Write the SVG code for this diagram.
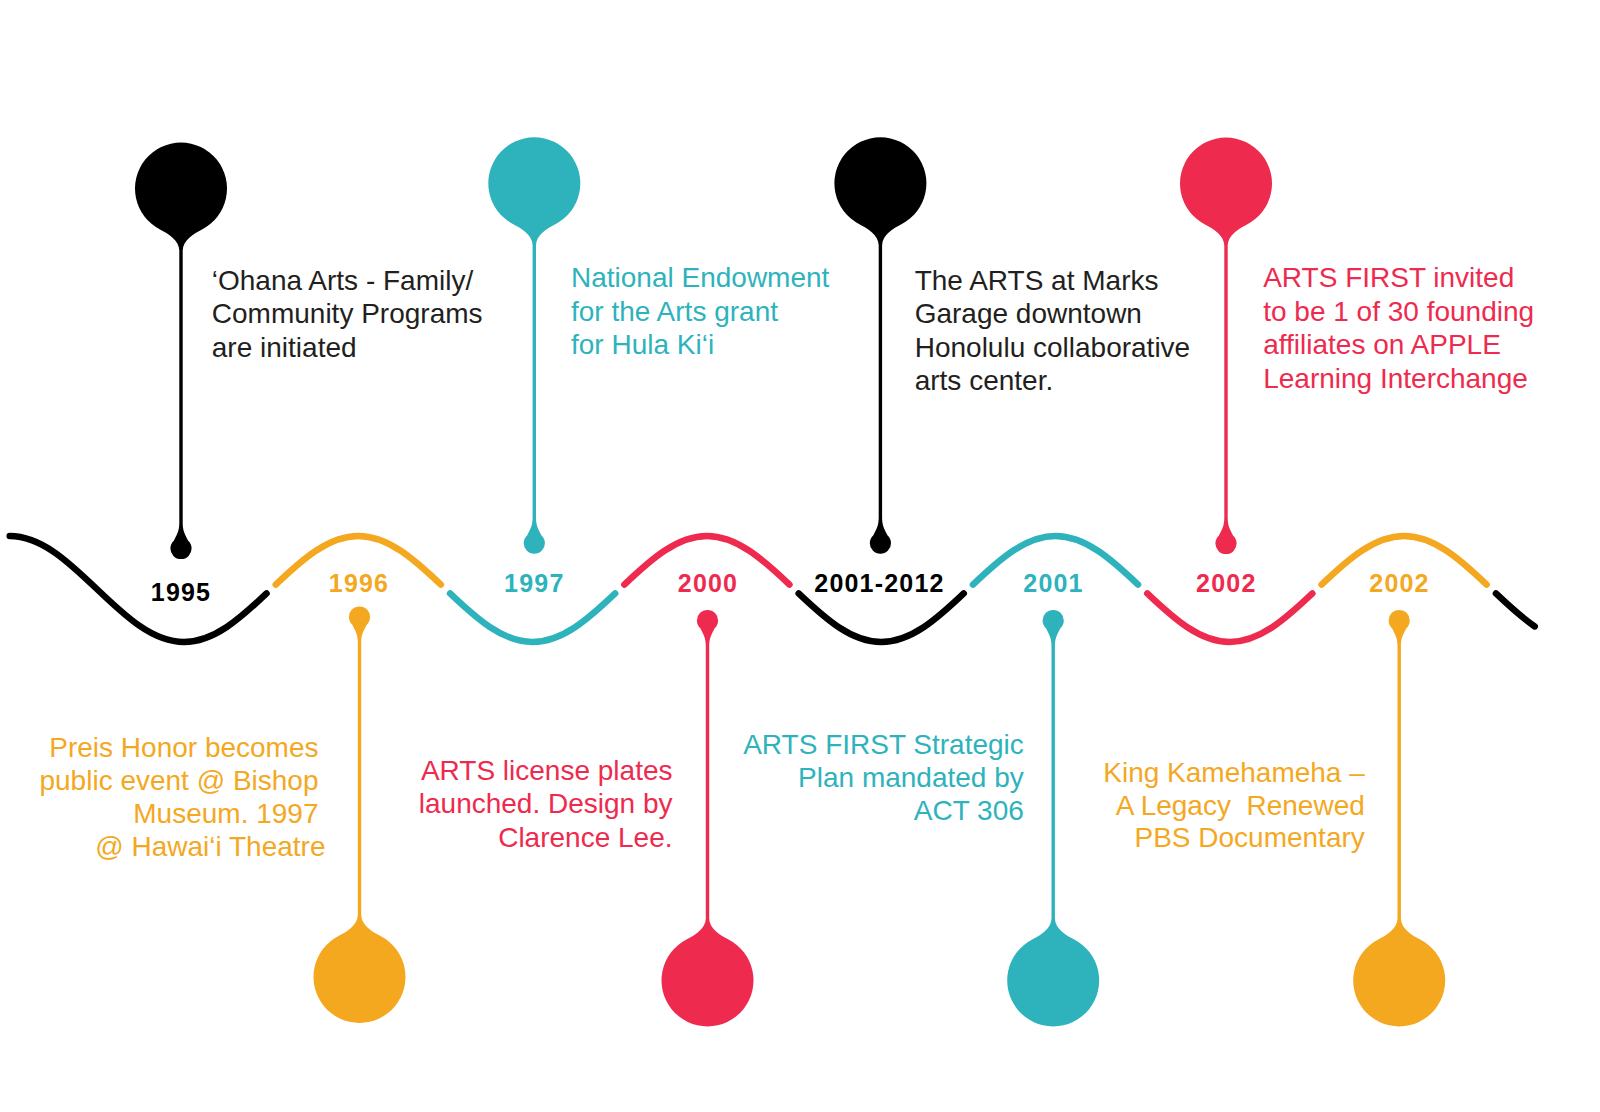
<svg xmlns="http://www.w3.org/2000/svg" width="1600" height="1112" viewBox="0 0 1600 1112">
<style>
.t{font-family:"Liberation Sans",Arial,sans-serif;font-size:28px}
.yr{font-family:"Liberation Sans",Arial,sans-serif;font-size:25px;font-weight:bold;letter-spacing:1.2px;text-anchor:middle}
.e{text-anchor:end}
.k{fill:#000}
.kt{fill:#231f20}
.o{fill:#F4A81F}
.c{fill:#2EB3BC}
.r{fill:#EE2A4E}
.w{fill:none;stroke-width:6.5;stroke-linecap:round}
.mid{stroke-dasharray:94 6;stroke-dashoffset:-3}
</style>
<defs>
<path id="pin" d="M1.7,62 C1.7,52 13,45 21,41 A46 46 0 1 0 -21,41 C-13,45 -1.7,52 -1.7,62 L-1.7,334 C-1.7,342 -3.5,345 -7.2,352.2 A10.6 10.6 0 1 0 7.2,352.2 C3.5,345 1.7,342 1.7,334 Z"/>
</defs>
<rect width="1600" height="1112" fill="#fff"/>

<g id="connectors" class="w">
<path stroke="#000" pathLength="100" style="stroke-dasharray:98 10" d="M9.7,536 c31.54,0 58.73,25.85 87.15,53 c28.42,27.15 55.61,53 87.15,53 c31.54,0 58.73,-25.85 87.15,-53"/>
<path class="mid" stroke="#F4A81F" pathLength="100" d="M271.15,589 c28.42,-27.15 55.61,-53 87.15,-53 c31.54,0 58.73,25.85 87.15,53"/>
<path class="mid" stroke="#2EB3BC" pathLength="100" d="M445.45,589 c28.42,27.15 55.61,53 87.15,53 c31.54,0 58.73,-25.85 87.15,-53"/>
<path class="mid" stroke="#EE2A4E" pathLength="100" d="M619.75,589 c28.42,-27.15 55.61,-53 87.15,-53 c31.54,0 58.73,25.85 87.15,53"/>
<path class="mid" stroke="#000" pathLength="100" d="M794.05,589 c28.42,27.15 55.61,53 87.15,53 c31.54,0 58.73,-25.85 87.15,-53"/>
<path class="mid" stroke="#2EB3BC" pathLength="100" d="M968.35,589 c28.42,-27.15 55.61,-53 87.15,-53 c31.54,0 58.73,25.85 87.15,53"/>
<path class="mid" stroke="#EE2A4E" pathLength="100" d="M1142.65,589 c28.42,27.15 55.61,53 87.15,53 c31.54,0 58.73,-25.85 87.15,-53"/>
<path class="mid" stroke="#F4A81F" pathLength="100" d="M1316.95,589 c28.42,-27.15 55.61,-53 87.15,-53 c31.54,0 58.73,25.85 87.15,53"/>
<path stroke="#000" pathLength="100" style="stroke-dasharray:48.9 100;stroke-dashoffset:-6.1" d="M1491.25,589 c28.42,27.15 55.61,53 87.15,53"/>
</g>

<g id="event-1995">
<use href="#pin" class="k" transform="translate(181,188.5)"/>
<text class="yr k" x="181" y="600.5">1995</text>
<text class="t kt" x="211.8"><tspan x="211.8" y="289.5">‘Ohana Arts - Family/</tspan><tspan x="211.8" y="323">Community Programs</tspan><tspan x="211.8" y="356.5">are initiated</tspan></text>
</g>

<g id="event-1996">
<use href="#pin" class="o" transform="translate(359.5,977) scale(1,-1)"/>
<text class="yr o" x="359" y="591.5">1996</text>
<text class="t o e"><tspan x="318.5" y="757">Preis Honor becomes</tspan><tspan x="318.5" y="790">public event @ Bishop</tspan><tspan x="318.5" y="823">Museum. 1997</tspan><tspan x="325.5" y="856">@ Hawai‘i Theatre</tspan></text>
</g>

<g id="event-1997">
<use href="#pin" class="c" transform="translate(534.3,183.2)"/>
<text class="yr c" x="534.3" y="591.5">1997</text>
<text class="t c"><tspan x="571" y="287">National Endowment</tspan><tspan x="571" y="320.5">for the Arts grant</tspan><tspan x="571" y="354">for Hula Ki‘i</tspan></text>
</g>

<g id="event-2000">
<use href="#pin" class="r" transform="translate(707.5,980.5) scale(1,-1)"/>
<text class="yr r" x="708" y="591.5">2000</text>
<text class="t r e"><tspan x="672.5" y="780">ARTS license plates</tspan><tspan x="672.5" y="813">launched. Design by</tspan><tspan x="672.5" y="846.5">Clarence Lee.</tspan></text>
</g>

<g id="event-2001-2012">
<use href="#pin" class="k" transform="translate(880.4,183.2)"/>
<text class="yr k" x="879.5" y="591.5">2001-2012</text>
<text class="t kt"><tspan x="914.7" y="289.5">The ARTS at Marks</tspan><tspan x="914.7" y="323">Garage downtown</tspan><tspan x="914.7" y="356.5">Honolulu collaborative</tspan><tspan x="914.7" y="390">arts center.</tspan></text>
</g>

<g id="event-2001">
<use href="#pin" class="c" transform="translate(1053.2,980.5) scale(1,-1)"/>
<text class="yr c" x="1053.5" y="591.5">2001</text>
<text class="t c e"><tspan x="1023.8" y="754">ARTS FIRST Strategic</tspan><tspan x="1023.8" y="787">Plan mandated by</tspan><tspan x="1023.8" y="820">ACT 306</tspan></text>
</g>

<g id="event-2002-apple">
<use href="#pin" class="r" transform="translate(1226,183.5)"/>
<text class="yr r" x="1226.3" y="591.5">2002</text>
<text class="t r"><tspan x="1263.2" y="287">ARTS FIRST invited</tspan><tspan x="1263.2" y="320.5">to be 1 of 30 founding</tspan><tspan x="1263.2" y="354">affiliates on APPLE</tspan><tspan x="1263.2" y="387.5">Learning Interchange</tspan></text>
</g>

<g id="event-2002-pbs">
<use href="#pin" class="o" transform="translate(1399.2,980.5) scale(1,-1)"/>
<text class="yr o" x="1399.5" y="591.5">2002</text>
<text class="t o e" xml:space="preserve"><tspan x="1364.8" y="782">King Kamehameha –</tspan><tspan x="1364.8" y="814.5">A Legacy  Renewed</tspan><tspan x="1364.8" y="847">PBS Documentary</tspan></text>
</g>
</svg>
